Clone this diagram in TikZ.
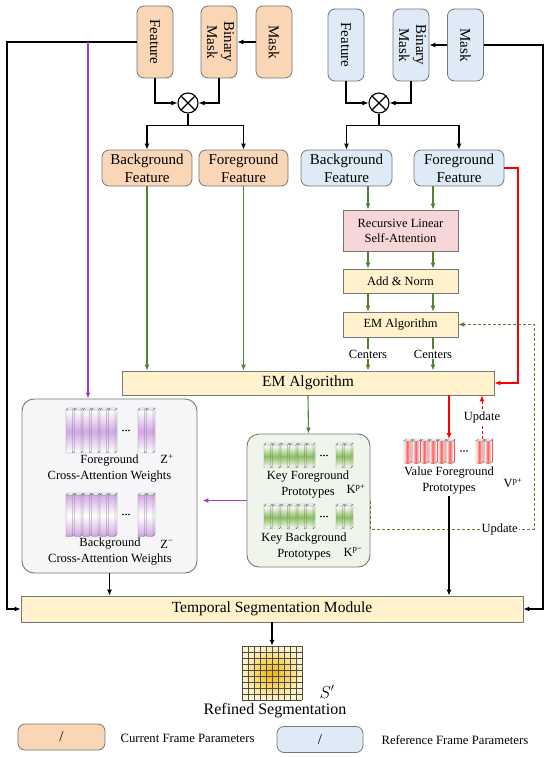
\documentclass[tikz,border=0pt]{standalone}
\usepackage{fontspec}
\setmainfont{Liberation Serif}
\usetikzlibrary{arrows.meta,positioning,calc}

\definecolor{curfill}{HTML}{FAD6B6}
\definecolor{reffill}{HTML}{DEEBF7}
\definecolor{opfill}{HTML}{FFF2CC}
\definecolor{attfill}{HTML}{F6D6D6}
\definecolor{edgegray}{HTML}{767676}
\definecolor{grn}{HTML}{548235}
\definecolor{barg}{HTML}{8DC063}
\definecolor{purp}{HTML}{A040C8}
\definecolor{keyfill}{HTML}{EFF5EA}
\definecolor{wfill}{HTML}{F6F6F8}
\definecolor{segin}{HTML}{F2B400}
\definecolor{segout}{HTML}{FFF4C8}

% one 3D bar: x, top y, height, shading style
\newcommand{\onebar}[4]{%
  \shade[#4] (#1,#2+2) rectangle (#1+6.5,#2+#3);
  \shade[#4] (#1+6.5,#2+2) -- (#1+8.5,#2) -- (#1+8.5,#2+#3-2) -- (#1+6.5,#2+#3) -- cycle;
  \draw[edgegray, line width=0.4pt, fill=white] (#1,#2+2) -- (#1+2,#2) -- (#1+8.5,#2) -- (#1+6.5,#2+2) -- cycle;
  \draw[edgegray, line width=0.4pt] (#1,#2+2) rectangle (#1+6.5,#2+#3)
    (#1+8.5,#2) -- (#1+8.5,#2+#3-2) -- (#1+6.5,#2+#3);
}
% a row of prototype bars with dots
\newcommand{\protobars}[4]{%
  \foreach \i in {0,...,5} {\onebar{#1+\i*8.5}{#2}{#3}{#4}}
  \foreach \i in {0,1} {\onebar{#1+72+\i*8.5}{#2}{#3}{#4}}
  \foreach \i in {57,60,63} {\fill (#1+\i,#2+#3/2) circle (0.9pt);}
}

\begin{document}
\begin{tikzpicture}[x=1pt, y=-1pt,
    cur/.style={rectangle, rounded corners=7pt, draw=edgegray, line width=0.8pt, fill=curfill, align=center, inner sep=1pt},
    ref/.style={cur, fill=reffill},
    vbox/.style={minimum width=36pt, minimum height=72pt, font=\fontsize{15}{17}\selectfont},
    fbox/.style={minimum height=36pt, font=\fontsize{15}{18}\selectfont},
    opbox/.style={rectangle, draw=edgegray, line width=0.8pt, fill=opfill, align=center, inner sep=1pt, font=\fontsize{12.5}{15}\selectfont},
    bigop/.style={opbox, font=\fontsize{15.5}{18}\selectfont},
    group/.style={rectangle, rounded corners=12pt, draw=edgegray, line width=0.9pt},
    mul/.style={circle, draw, line width=1.1pt, minimum size=20pt, inner sep=0pt,
      path picture={\draw[line width=1.1pt] (path picture bounding box.north west) -- (path picture bounding box.south east)
        (path picture bounding box.north east) -- (path picture bounding box.south west);}},
    lbl/.style={font=\fontsize{12.5}{16}\selectfont, align=center, inner sep=1pt},
    arrow/.style={-{Latex[length=6pt,width=5pt]}, line width=1.1pt},
    garrow/.style={arrow, draw=grn},
    parrow/.style={arrow, draw=purp},
    rarrow/.style={arrow, draw=red},
    dashline/.style={dash pattern=on 3pt off 2pt, line width=0.9pt},
    purpbar/.style={top color=white, bottom color=white, middle color=purp!45},
    purpbarb/.style={top color=purp!45, bottom color=purp!45, middle color=white},
    grnbar/.style={top color=white, bottom color=white, middle color=barg},
    redbar/.style={left color=white, right color=white, middle color=red!65}
]
    \useasboundingbox (0,0) rectangle (550,757);

    % rails
    \coordinate (lrail) at (7,0);
    \coordinate (prail) at (88,0);
    \coordinate (rrail) at (543,0);
    \coordinate (rrd) at (518,0);
    \coordinate (cl) at (368,0);
    \coordinate (cr) at (433,0);
    \coordinate (upd) at (534,529);
    \coordinate (vtop) at (449,439);
    \coordinate (utop) at (482,439);

    % current frame inputs
    \node (oFeat) [cur, vbox] at (155,42) {\rotatebox{-90}{Feature}};
    \node (oBin) [cur, vbox] at (219,42) {\rotatebox{-90}{\begin{tabular}{@{}c@{}}Binary\\Mask\end{tabular}}};
    \node (oMask) [cur, vbox] at (274,42) {\rotatebox{-90}{Mask}};
    \node (oMul) [mul] at (188,103) {};
    \node (oBg) [cur, fbox, minimum width=90pt] at (147,168) {Background\\Feature};
    \node (oFg) [cur, fbox, minimum width=89pt] at (243.5,168) {Foreground\\Feature};

    % reference frame inputs
    \node (bFeat) [ref, vbox] at (346,45) {\rotatebox{-90}{Feature}};
    \node (bBin) [ref, vbox] at (411,45) {\rotatebox{-90}{\begin{tabular}{@{}c@{}}Binary\\Mask\end{tabular}}};
    \node (bMask) [ref, vbox] at (465.5,45) {\rotatebox{-90}{Mask}};
    \node (bMul) [mul] at (379,103) {};
    \node (bBg) [ref, fbox, minimum width=91pt] at (346.5,168) {Background\\Feature};
    \node (bFg) [ref, fbox, minimum width=90pt] at (459,168) {Foreground\\Feature};

    % attention + EM
    \node (rlsa) [opbox, fill=attfill, minimum width=115pt, minimum height=41pt] at (400.5,230.5) {Recursive Linear\\Self-Attention};
    \node (addn) [opbox, minimum width=115pt, minimum height=24pt] at (400.5,281) {Add \& Norm};
    \node (emS) [opbox, minimum width=115pt, minimum height=25pt] at (400.5,324.5) {EM Algorithm};
    \node (emB) [bigop, minimum width=372pt, minimum height=24pt] at (308,383) {EM Algorithm};

    % groups
    \node (gbox) [group, fill=wfill, minimum width=175pt, minimum height=174pt] at (109.5,486) {};
    \node (kbox) [group, fill=keyfill, minimum width=123pt, minimum height=133pt] at (308.5,500.5) {};

    \protobars{66}{408}{45}{purpbar}
    \protobars{66}{493}{43}{purpbarb}
    \protobars{264}{443}{25}{grnbar}
    \protobars{264}{504}{25}{grnbar}
    \protobars{404}{439}{24}{redbar}

    \node (fgw) [lbl] at (109.5,468.5) {Foreground\\Cross-Attention Weights};
    \node (zp) [lbl] at (167,459) {Z\textsuperscript{+}};
    \node (bgw) [lbl] at (110,552) {Background\\Cross-Attention Weights};
    \node (zm) [lbl] at (167,544) {Z\textsuperscript{−}};
    \node (kfp) [lbl] at (308,485) {Key Foreground\\Prototypes};
    \node (kp) [lbl] at (356,489) {K\textsuperscript{p+}};
    \node (kbp) [lbl] at (304,547) {Key Background\\Prototypes};
    \node (km) [lbl] at (353,552) {K\textsuperscript{p−}};
    \node (vfp) [lbl] at (449,481) {Value Foreground\\Prototypes};
    \node (vp) [lbl] at (513,483) {V\textsuperscript{p+}};

    % output
    \node (tsm) [bigop, minimum width=502pt, minimum height=26pt] at (272,609) {Temporal Segmentation Module};
    \node (seg) [rectangle, inner sep=0pt, minimum width=60pt, minimum height=54pt, inner color=segin, outer color=segout] at (272,673) {};
    \foreach \i in {0,...,10} \draw[black!70, line width=0.6pt] (242+\i*6,646) -- (242+\i*6,700);
    \foreach \j in {0,...,9} \draw[black!70, line width=0.6pt] (242,646+\j*6) -- (302,646+\j*6);
    \node (sprime) [font=\fontsize{16}{18}\selectfont] at (327,692) {$S'$};
    \node (segtxt) [font=\fontsize{16}{18}\selectfont] at (275,711) {Refined Segmentation};

    % legend
    \node (lcur) [cur, minimum width=87pt, minimum height=26pt, font=\fontsize{15}{18}\selectfont] at (61.5,737) {/};
    \node (lcurtxt) [anchor=west, font=\fontsize{12.7}{15}\selectfont] at (117,738) {Current Frame Parameters};
    \node (lref) [ref, minimum width=86pt, minimum height=26pt, font=\fontsize{15}{18}\selectfont] at (320,739.5) {/};
    \node (lreftxt) [anchor=west, font=\fontsize{12.7}{15}\selectfont] at (378,740) {Reference Frame Parameters};

    % connectors
    \draw [arrow] (oMask.west) -- (oBin.east);
    \draw [arrow] (oFeat.south) |- (oMul.west);
    \draw [arrow] (oBin.south) |- (oMul.east);
    \draw [arrow] (oMul.south) -- ++(0,12) -| (oBg.north);
    \draw [arrow] (oMul.south) -- ++(0,12) -| (oFg.north);
    \draw [arrow] (bMask.west) -- (bBin.east);
    \draw [arrow] (bFeat.south) |- (bMul.west);
    \draw [arrow] (bBin.south) |- (bMul.east);
    \draw [arrow] (bMul.south) -- ++(0,12) -| (bBg.north);
    \draw [arrow] (bMul.south) -- ++(0,12) -| (bFg.north);

    \draw [arrow] (oFeat.west) -- (oFeat.west -| lrail) |- (tsm.west);
    \draw [arrow] (bMask.east) -- (bMask.east -| rrail) |- (tsm.east);
    \draw [parrow] (oFeat.west -| prail) -- (gbox.north -| prail);
    \draw [parrow, shorten >=5pt] (kbox.west) -- (kbox.west -| gbox.east);

    \draw [garrow] (oBg.south) -- (oBg.south |- emB.north);
    \draw [garrow] (oFg.south) -- (oFg.south |- emB.north);
    \draw [garrow] (bBg.south -| cl) -- (rlsa.north -| cl);
    \draw [garrow] (bFg.south -| cr) -- (rlsa.north -| cr);
    \draw [garrow] (rlsa.south -| cl) -- (addn.north -| cl);
    \draw [garrow] (rlsa.south -| cr) -- (addn.north -| cr);
    \draw [garrow] (addn.south -| cl) -- (emS.north -| cl);
    \draw [garrow] (addn.south -| cr) -- (emS.north -| cr);
    \draw [garrow] (emS.south -| cl) -- node[lbl, fill=white] {Centers} (emB.north -| cl);
    \draw [garrow] (emS.south -| cr) -- node[lbl, fill=white] {Centers} (emB.north -| cr);
    \draw [garrow] (emB.south) -- (kbox.north);
    \draw [garrow, dashline] (kbox.east) -- (kbox.east |- upd) -- node[pos=0.79, lbl, fill=white] {Update} (upd) |- (emS.east);

    \draw [rarrow] (bFg.east) -- (bFg.east -| rrd) |- (emB.east);
    \draw [rarrow] (emB.south -| vtop) -- (vtop);
    \draw [rarrow, dashline] (utop) -- node[lbl, fill=white] {Update} (emB.south -| utop);

    \draw [arrow] (gbox.south) -- (tsm.north -| gbox.south);
    \draw [arrow] (vfp.south -| vtop) -- (tsm.north -| vtop);
    \draw [arrow] (tsm.south) -- (seg.north);
\end{tikzpicture}
\end{document}
